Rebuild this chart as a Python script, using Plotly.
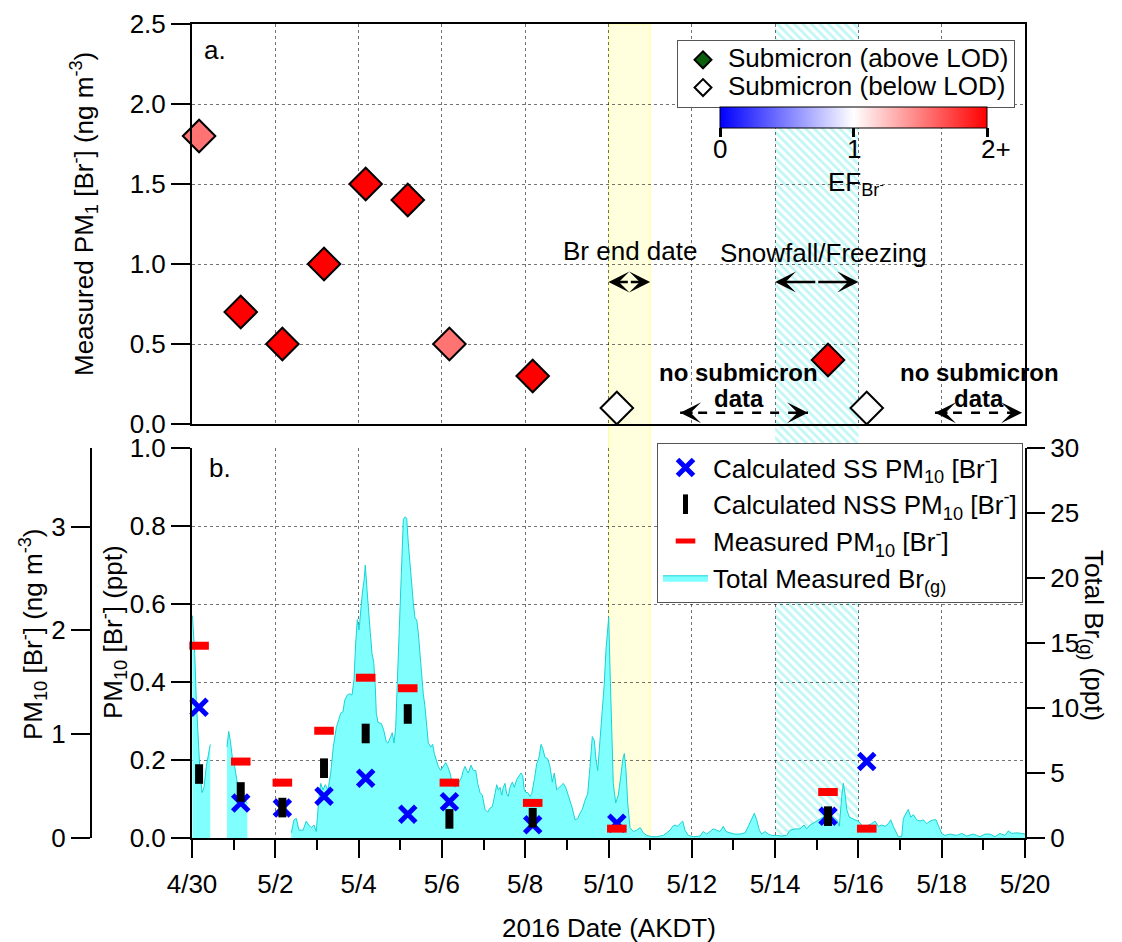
import plotly.graph_objects as go

FONT = "Liberation Sans, Arial, sans-serif"

# ---------------- data ----------------
# sample times (days after 2016-04-30 00:00 AKDT)
sample_day = [0.17, 1.17, 2.17, 3.17, 4.17, 5.18, 6.18, 8.18, 10.2, 15.27, 16.2]
# panel a: measured PM1 bromide (ng m-3) and enrichment factor
pm1_br = [1.8, 0.7, 0.5, 1.0, 1.5, 1.4, 0.5, 0.3, 0.1, 0.4, 0.1]
above_lod = [True, True, True, True, True, True, True, True, False, True, False]
ef_br = [1.55, 2.0, 2.0, 2.0, 2.0, 2.0, 1.55, 2.0, None, 2.0, None]
# panel b: PM10 bromide (ppt)
ss_pm10 = [0.335, 0.090, 0.077, 0.107, 0.153, 0.061, 0.093, 0.034, 0.038, 0.056, 0.196]
nss_pm10 = [0.164, 0.118, 0.078, 0.179, 0.268, 0.318, 0.049, 0.052, -0.005, 0.056, None]
meas_pm10 = [0.493, 0.196, 0.142, 0.275, 0.411, 0.384, 0.142, 0.090, 0.024, 0.118, 0.024]

# total measured Br(g) (ppt); None marks data gaps
brg_day = [
    0.01, 0.065, 0.103, 0.144, 0.185, 0.24, 0.288, 0.343, 0.401, 0.439,
    0.64,
    0.84, 0.881, 0.92, 0.968, 1.025, 1.104, 1.184, 1.265, 1.328,
    1.9,
    2.384, 2.449, 2.504, 2.569, 2.665, 2.744, 2.802, 2.864, 2.929, 2.984,
    3.042, 3.09, 3.145, 3.2, 3.265, 3.33, 3.392, 3.465, 3.522, 3.57,
    3.625, 3.666, 3.729, 3.786, 3.842, 3.89, 3.93, 3.969, 4.01, 4.05,
    4.089, 4.13, 4.161, 4.202, 4.243, 4.281, 4.322, 4.363, 4.401, 4.425,
    4.466, 4.545, 4.603, 4.665, 4.706, 4.761, 4.809, 4.85, 4.891, 4.929,
    4.97, 5.011, 5.042, 5.074, 5.114, 5.155, 5.193, 5.234, 5.275, 5.313,
    5.354, 5.395, 5.433, 5.474, 5.515, 5.553, 5.594, 5.635, 5.674, 5.738,
    5.779, 5.818, 5.858, 5.914, 5.971, 6.034, 6.091, 6.139, 6.195, 6.25,
    6.315, 6.379, 6.435, 6.475, 6.514, 6.555, 6.595, 6.634, 6.699, 6.754,
    6.812, 6.86, 6.915, 6.97, 7.035, 7.1, 7.155, 7.21, 7.275, 7.316,
    7.354, 7.395, 7.436, 7.474, 7.515, 7.556, 7.594, 7.635, 7.69, 7.738,
    7.796, 7.851, 7.899, 7.94, 7.978, 8.019, 8.06, 8.115, 8.156, 8.219,
    8.276, 8.331, 8.379, 8.42, 8.475, 8.54, 8.595, 8.651, 8.699, 8.756,
    8.812, 8.876, 8.915, 8.972, 9.02, 9.076, 9.131, 9.196, 9.26, 9.316,
    9.371, 9.436, 9.5, 9.556, 9.611, 9.659, 9.7, 9.741, 9.772, 9.82,
    9.861, 9.899, 9.94, 9.981, 10.005, 10.036, 10.077, 10.115, 10.173, 10.235,
    10.293, 10.341, 10.38, 10.42, 10.461, 10.516, 10.596, 10.677, 10.76, 10.836,
    10.917, 10.997, 11.037, 11.157, 11.316, 11.397, 11.477, 11.542, 11.597, 11.652,
    11.717, 11.782, 11.837, 11.916, 12.036, 12.197, 12.276, 12.358, 12.437, 12.516,
    12.598, 12.677, 12.756, 12.821, 12.917, 13.037, 13.157, 13.277, 13.357, 13.438,
    13.501, 13.559, 13.621, 13.678, 13.757, 13.837, 13.918, 14.038, 14.158, 14.278,
    14.358, 14.478, 14.598, 14.694, 14.759, 14.838, 14.918, 14.999, 15.078, 15.158,
    15.239, 15.318, 15.398, 15.479, 15.542, 15.6, 15.638, 15.679, 15.72, 15.782,
    15.84, 15.919, 15.998, 16.079, 16.159, 16.238, 16.32, 16.399, 16.478, 16.559,
    16.639, 16.718, 16.776, 16.838, 16.903, 16.958, 17.04, 17.079, 17.143, 17.199,
    17.256, 17.318, 17.4, 17.479, 17.559, 17.64, 17.719, 17.799, 17.863, 17.919,
    18.0, 18.079, 18.199, 18.36, 18.48, 18.6, 18.759, 18.84, 18.92, 19.04,
    19.16, 19.28, 19.4, 19.52, 19.6, 19.681, 19.801, 19.921, 20.0,
]
brg_ppt = [
    17.1, 14.2, 10.6, 8.1, 5.5, 3.5, 3.9, 5.5, 6.5, 7.2,
    None,
    7.0, 8.2, 7.5, 6.2, 5.5, 3.9, 3.4, 2.9, 2.7,
    None,
    0.4, 1.4, 1.5, 0.6, 0.6, 1.3, 1.0, 0.8, 1.0, 0.5,
    2.9, 4.2, 3.7, 4.1, 3.7, 5.0, 7.0, 8.5, 9.1, 9.6,
    9.7, 10.6, 11.0, 11.1, 11.0, 12.2, 15.0, 16.8, 16.0, 17.5,
    18.8, 19.8, 21.0, 19.1, 17.0, 15.8, 14.2, 13.5, 11.6, 9.6,
    8.9, 8.8, 8.3, 7.4, 7.3, 7.8, 8.1, 7.3, 8.5, 11.9,
    15.8, 19.6, 23.0, 24.5, 24.7, 24.6, 22.7, 20.9, 19.1, 18.1,
    16.9, 16.8, 15.8, 14.2, 12.4, 11.1, 10.1, 8.9, 7.3, 7.0,
    7.2, 6.5, 6.0, 5.5, 5.2, 5.5, 5.8, 5.5, 5.0, 4.2,
    3.9, 4.1, 4.5, 4.7, 5.2, 5.5, 5.2, 5.0, 5.6, 5.2,
    5.2, 4.2, 3.5, 3.3, 2.2, 2.0, 2.3, 2.4, 3.4, 4.1,
    3.7, 3.9, 3.3, 3.9, 4.2, 3.4, 3.2, 3.9, 4.3, 3.9,
    4.5, 4.8, 5.0, 4.8, 3.7, 3.5, 3.5, 3.2, 3.4, 4.5,
    5.7, 6.2, 7.2, 6.9, 6.2, 6.1, 5.5, 4.3, 5.0, 3.7,
    3.9, 4.1, 4.2, 3.9, 3.4, 2.7, 2.3, 1.4, 1.5, 1.9,
    2.2, 2.9, 3.4, 5.5, 7.8, 7.5, 6.0, 5.2, 6.5, 8.1,
    10.1, 11.9, 14.5, 16.0, 17.0, 13.0, 9.1, 4.2, 2.7, 3.3,
    4.7, 6.0, 6.5, 5.2, 2.7, 0.8, 0.5, 0.6, 0.8, 0.4,
    0.2, 0.15, 0.1, 0.1, 0.2, 0.4, 0.6, 0.9, 1.0, 0.9,
    1.1, 1.3, 0.6, 0.2, 0.1, 0.15, 0.5, 0.3, 0.5, 0.7,
    0.6, 0.5, 0.9, 0.5, 0.4, 0.3, 0.3, 0.4, 0.9, 1.5,
    1.9, 1.4, 0.6, 0.3, 0.5, 0.3, 0.2, 0.2, 0.15, 0.2,
    0.6, 0.7, 0.7, 1.0, 0.7, 1.0, 1.15, 1.3, 1.4, 1.6,
    2.2, 1.9, 1.6, 1.4, 0.9, 3.2, 4.2, 3.4, 2.2, 1.6,
    1.5, 1.4, 1.3, 1.0, 0.7, 1.0, 1.1, 1.3, 0.9, 1.0,
    0.9, 1.1, 1.4, 0.9, 0.5, 0.1, 0.1, 1.5, 1.9, 2.2,
    1.6, 1.8, 1.4, 1.3, 1.4, 1.1, 1.3, 1.4, 1.4, 0.9,
    0.35, 0.2, 0.3, 0.2, 0.35, 0.15, 0.3, 0.2, 0.1, 0.3,
    0.3, 0.1, 0.35, 0.2, 0.55, 0.35, 0.4, 0.35, 0.3,
]

# event periods (days after 4/30)
br_end_period = [10.0, 11.0]
snow_period = [14.0, 16.0]
no_sub_periods = [[11.72, 14.79], [17.84, 19.93]]

tick_days = [0, 2, 4, 6, 8, 10, 12, 14, 16, 18, 20]
tick_labels = ["4/30", "5/2", "5/4", "5/6", "5/8", "5/10", "5/12", "5/14", "5/16", "5/18", "5/20"]
ef_ticks = [0, 1, 2]
ef_tick_labels = ["0", "1", "2+"]

# ---------------- figure ----------------
W, H = 1122, 942
XL, XR = 192, 1025
A_TOP, A_BOT = 24, 424
B_TOP, B_BOT = 448, 838
CB_L, CB_R = 720, 987


def px(x):
    return x / W


def py(y):
    return 1 - y / H


def big(text):
    return '<span style="font-size:26px">' + text + "</span>"


xdom = [px(XL), px(XR)]
fig = go.Figure()

# hatched snowfall band (spans both panels)
fig.add_trace(go.Scatter(
    x=[snow_period[0], snow_period[1], snow_period[1], snow_period[0], snow_period[0]],
    y=[0, 0, 1, 1, 0], xaxis="x", yaxis="y", mode="lines", fill="toself",
    line=dict(width=0), fillcolor="rgba(255,255,255,0)",
    fillpattern=dict(shape="\\", fgcolor="#80EEEE", bgcolor="rgba(255,255,255,0)",
                     size=6, solidity=0.45),
    hoverinfo="skip", showlegend=False))

# ---- panel a ----
xa = [d for d, ok in zip(sample_day, above_lod) if ok]
ya = [v for v, ok in zip(pm1_br, above_lod) if ok]
ca = [e for e, ok in zip(ef_br, above_lod) if ok]
xb = [d for d, ok in zip(sample_day, above_lod) if not ok]
yb = [v for v, ok in zip(pm1_br, above_lod) if not ok]

fig.add_trace(go.Scatter(
    x=xa, y=ya, xaxis="x2", yaxis="y2", mode="markers", cliponaxis=False,
    marker=dict(symbol="diamond", size=25, color=ca, coloraxis="coloraxis",
                line=dict(color="black", width=2)),
    showlegend=False, name="Submicron (above LOD)"))
fig.add_trace(go.Scatter(
    x=xb, y=yb, xaxis="x2", yaxis="y2", mode="markers", cliponaxis=False,
    marker=dict(symbol="diamond", size=25, color="white",
                line=dict(color="black", width=2)),
    showlegend=False, name="Submicron (below LOD)"))
# legend entries for panel a
fig.add_trace(go.Scatter(
    x=[None], y=[None], xaxis="x2", yaxis="y2", mode="markers",
    marker=dict(symbol="diamond", size=13, color="#0B5E0B", line=dict(color="black", width=2)),
    name=big("Submicron (above LOD)"), legend="legend", legendrank=1))
fig.add_trace(go.Scatter(
    x=[None], y=[None], xaxis="x2", yaxis="y2", mode="markers",
    marker=dict(symbol="diamond", size=13, color="white", line=dict(color="black", width=2)),
    name=big("Submicron (below LOD)"), legend="legend", legendrank=2))

# ---- panel b ----
# split the Br(g) record at its data gaps so that each piece is filled separately
segments, cur_x, cur_y = [], [], []
for d, v in zip(brg_day, brg_ppt):
    if v is None:
        if cur_x:
            segments.append((cur_x, cur_y))
        cur_x, cur_y = [], []
    else:
        cur_x.append(d)
        cur_y.append(v)
if cur_x:
    segments.append((cur_x, cur_y))

for i, (sx, sy) in enumerate(segments):
    fig.add_trace(go.Scatter(
        x=sx, y=sy, xaxis="x3", yaxis="y3", mode="lines", fill="tozeroy",
        line=dict(color="#19D3D3", width=1), fillcolor="#80FFFF",
        name="Total Measured Br<sub>(g)</sub>", legend="legend2", legendrank=4,
        legendgroup="brg", showlegend=(i == len(segments) - 1)))

fig.add_trace(go.Scatter(
    x=sample_day, y=ss_pm10, xaxis="x3", yaxis="y4", mode="markers", cliponaxis=False,
    marker=dict(symbol="x-thin", size=16, color="#0000FF", line=dict(color="#0000FF", width=5)),
    name="Calculated SS PM<sub>10</sub> [Br<sup>-</sup>]", legend="legend2", legendrank=1))
fig.add_trace(go.Scatter(
    x=sample_day, y=nss_pm10, xaxis="x3", yaxis="y4", mode="markers", cliponaxis=False,
    marker=dict(symbol="line-ns", size=14, color="black", line=dict(color="black", width=8)),
    name="Calculated NSS PM<sub>10</sub> [Br<sup>-</sup>]", legend="legend2", legendrank=2))
fig.add_trace(go.Scatter(
    x=sample_day, y=meas_pm10, xaxis="x3", yaxis="y4", mode="markers", cliponaxis=False,
    marker=dict(symbol="line-ew", size=14, color="#FF0000", line=dict(color="#FF0000", width=8)),
    name="Measured PM<sub>10</sub> [Br<sup>-</sup>]", legend="legend2", legendrank=3))
# keeps the outer ng m-3 axis alive
fig.add_trace(go.Scatter(x=[None], y=[None], xaxis="x3", yaxis="y5",
                         mode="markers", showlegend=False, hoverinfo="skip"))

tickfont = dict(family=FONT, size=26, color="black")
grid = dict(showgrid=True, gridcolor="rgba(0,0,0,0.55)", griddash="dot", gridwidth=1)
axline = dict(showline=True, linecolor="black", linewidth=2, zeroline=False,
              automargin=False)

fig.update_layout(
    width=W, height=H,
    margin=dict(l=0, r=0, t=0, b=0, autoexpand=False),
    paper_bgcolor="white", plot_bgcolor="rgba(0,0,0,0)",
    font=dict(family=FONT, size=26, color="black"),
    xaxis=dict(domain=xdom, range=[0, 20], visible=False, anchor="y"),
    yaxis=dict(domain=[py(B_BOT), py(A_TOP)], range=[0, 1], visible=False, anchor="x"),
    # panel a
    xaxis2=dict(domain=xdom, range=[0, 20], anchor="y2", tickmode="array",
                tickvals=tick_days, showticklabels=False, ticks="", mirror=True,
                **axline, **grid),
    yaxis2=dict(domain=[py(A_BOT), py(A_TOP)], range=[0, 2.5], anchor="x2",
                dtick=0.5, tick0=0, tickformat=".1f", ticks="outside", ticklen=19,
                tickwidth=2, tickcolor="black", mirror=True, tickfont=tickfont,
                **axline, **grid),
    # panel b
    xaxis3=dict(domain=xdom, range=[0, 20], anchor="y3", tickmode="array",
                tickvals=tick_days, ticktext=tick_labels, ticks="outside", ticklen=18,
                tickwidth=2, tickcolor="black", tickfont=tickfont, ticklabelstandoff=4,
                minor=dict(dtick=1, tick0=0, ticks="outside", ticklen=10, tickwidth=2,
                           tickcolor="black", showgrid=False),
                **axline, **grid),
    yaxis3=dict(domain=[py(B_BOT), py(B_TOP)], range=[0, 30], anchor="x3", side="right",
                dtick=5, tick0=0, ticks="outside", ticklen=18, tickwidth=2,
                tickcolor="black", tickfont=tickfont, showgrid=False, **axline),
    yaxis4=dict(overlaying="y3", anchor="x3", side="left", range=[0, 1], dtick=0.2,
                tick0=0, tickformat=".1f", ticks="outside", ticklen=19, tickwidth=2,
                tickcolor="black", tickfont=tickfont, **axline, **grid),
    yaxis5=dict(overlaying="y3", anchor="free", position=px(91), side="left",
                range=[0, 3.757], tickvals=[0, 1, 2, 3], ticks="outside", ticklen=19,
                tickwidth=2, tickcolor="black", tickfont=tickfont, showgrid=False,
                **axline),
    coloraxis=dict(
        cmin=ef_ticks[0], cmax=ef_ticks[-1],
        colorscale=[[0, "#0000FF"], [0.5, "#FFFFFF"], [1, "#FF0000"]],
        colorbar=dict(
            orientation="h", x=px((CB_L + CB_R) / 2), xanchor="center", y=py(107),
            yanchor="top", lenmode="pixels", len=CB_R - CB_L, thicknessmode="pixels",
            thickness=21, outlinecolor="black", outlinewidth=1, xpad=0, ypad=0,
            tickvals=ef_ticks, ticks="outside", ticklen=9, tickwidth=3,
            tickcolor="black", showticklabels=False,
        ),
    ),
    legend=dict(x=px(677), y=py(40), xanchor="left", yanchor="top", itemwidth=40,
                bgcolor="white", bordercolor="#555555", borderwidth=1,
                font=dict(family=FONT, size=19, color="black"), tracegroupgap=0),
    legend2=dict(x=px(657), y=py(443), xanchor="left", yanchor="top", itemwidth=45,
                 bgcolor="white", bordercolor="#555555", borderwidth=1,
                 font=dict(family=FONT, size=26, color="black"), tracegroupgap=0),
)

# yellow "Br end date" band across both panels
fig.add_shape(type="rect", xref="x2", yref="paper",
              x0=br_end_period[0], x1=br_end_period[1], y0=py(B_BOT), y1=py(A_TOP),
              fillcolor="#FFFFDD", line=dict(color="#FFFF99", width=1), layer="below")

ann_font = dict(family=FONT, size=26, color="black")
bold_font = dict(family=FONT, size=24, color="black")


def paper_text(text, x, y, angle=0, anchor="center"):
    return dict(text=text, x=px(x), y=py(y), xref="paper", yref="paper",
                xanchor=anchor, yanchor="middle", textangle=angle,
                showarrow=False, font=ann_font)


def data_text(text, x, y, font=ann_font):
    return dict(text=text, x=x, y=y, xref="x2", yref="y2", xanchor="center",
                yanchor="middle", showarrow=False, font=font)


annotations = [
    paper_text("a.", 202, 50, anchor="left"),
    paper_text("b.", 207, 468, anchor="left"),
    paper_text("Measured PM<sub>1</sub> [Br<sup>-</sup>] (ng m<sup>-3</sup>)", 84, 214, -90),
    paper_text("PM<sub>10</sub> [Br<sup>-</sup>] (ppt)", 113, 632, -90),
    paper_text("PM<sub>10</sub> [Br<sup>-</sup>] (ng m<sup>-3</sup>)", 33, 634, -90),
    paper_text("Total Br<sub>(g)</sub> (ppt)", 1093, 635, 90),
    paper_text("2016 Date (AKDT)", 609, 928),
    paper_text("EF<sub>Br<sup>-</sup></sub>", 856, 184),
    data_text("Br end date", 10.52, 1.081),
    data_text("Snowfall/Freezing", 15.15, 1.069),
    data_text("<b>no submicron</b>", 13.13, 0.319, bold_font),
    data_text("<b>data</b>", 13.13, 0.1625, bold_font),
    data_text("<b>no submicron</b>", 18.9, 0.319, bold_font),
    data_text("<b>data</b>", 18.9, 0.1625, bold_font),
]
# colour-bar tick labels (placed right under the ticks)
for v, lab in zip(ef_ticks, ef_tick_labels):
    xpix = CB_L + (CB_R - CB_L) * (v - ef_ticks[0]) / (ef_ticks[-1] - ef_ticks[0])
    annotations.append(dict(text=lab, x=px(xpix), y=py(149), xref="paper", yref="paper",
                            xanchor="left" if lab.endswith("+") else "center",
                            xshift=-8 if lab.endswith("+") else 0,
                            yanchor="middle", showarrow=False, font=ann_font))

# solid double arrows: two heads drawn outward from the middle of each period
for p in (br_end_period, snow_period):
    mid = (p[0] + p[1]) / 2
    for end in p:
        annotations.append(dict(
            text="", x=end, y=0.8875, ax=mid, ay=0.8875, xref="x2", yref="y2",
            axref="x2", ayref="y2", showarrow=True, arrowhead=3, arrowsize=1.4,
            arrowwidth=2.5, arrowcolor="black", standoff=0))
# dashed double arrows: dashed line + arrow heads
for p in no_sub_periods:
    fig.add_shape(type="line", xref="x2", yref="y2", x0=p[0], x1=p[1], y0=0.07, y1=0.07,
                  line=dict(color="black", width=2.5, dash="dash"))
    annotations.append(dict(text="", x=p[1], y=0.07, ax=-14, ay=0, xref="x2", yref="y2",
                            showarrow=True, arrowhead=3, arrowsize=1.4, arrowwidth=2.5,
                            arrowcolor="black", standoff=0))
    annotations.append(dict(text="", x=p[0], y=0.07, ax=14, ay=0, xref="x2", yref="y2",
                            showarrow=True, arrowhead=3, arrowsize=1.4, arrowwidth=2.5,
                            arrowcolor="black", standoff=0))
fig.update_layout(annotations=annotations)

fig.write_html("out.html")
